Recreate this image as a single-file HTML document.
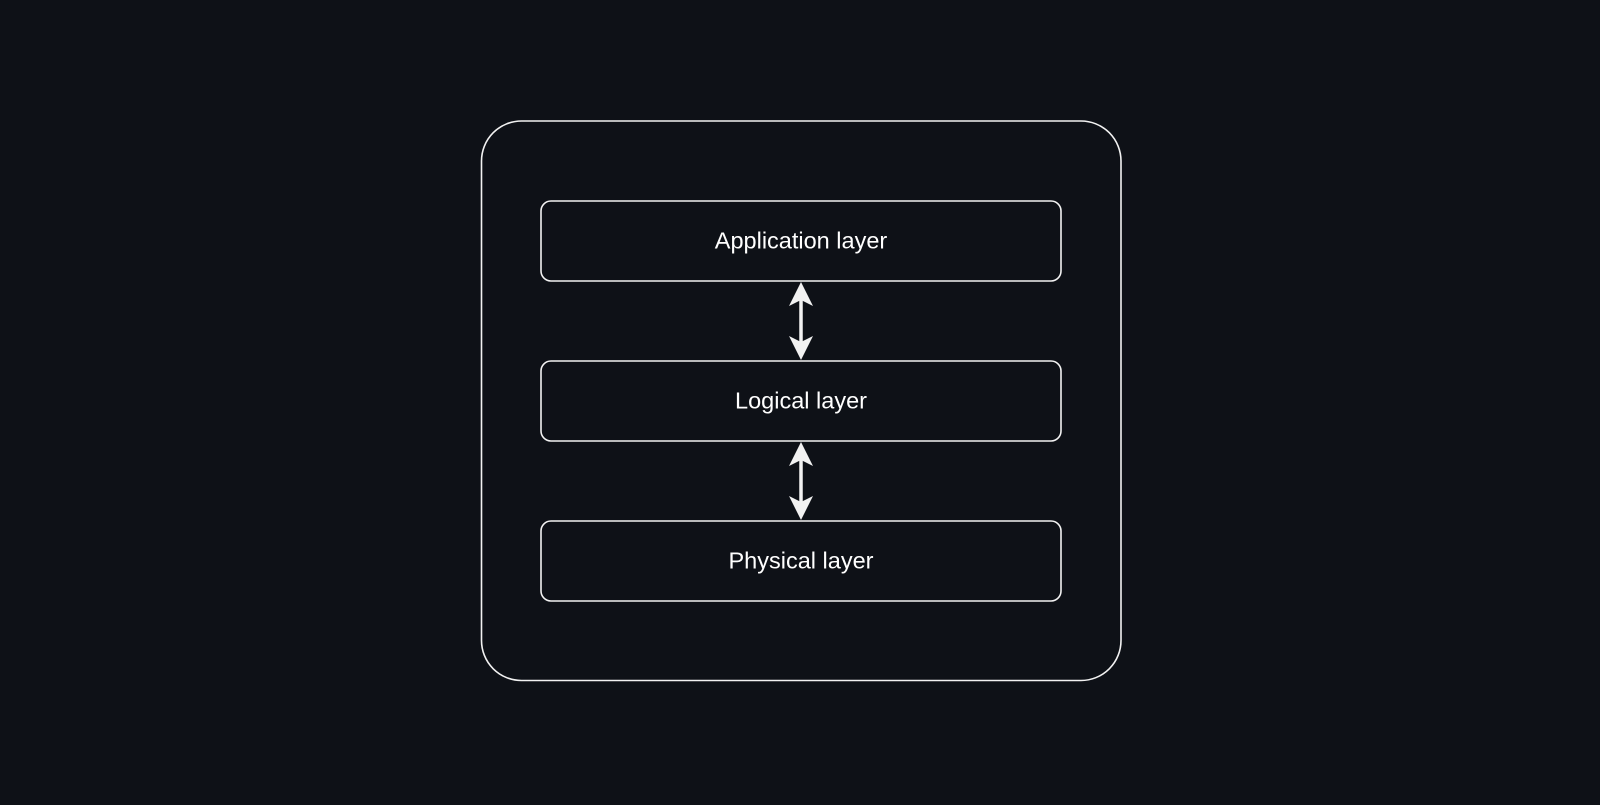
<!DOCTYPE html>
<html><head><meta charset="utf-8"><style>
html,body{margin:0;padding:0;background:#0e1117;}
</style></head><body>
<svg width="1600" height="800" viewBox="0 0 1600 800" xmlns="http://www.w3.org/2000/svg">
<rect width="1600" height="800" fill="#0e1117"/>
<g fill="none" stroke="#f2f2f2" stroke-width="1.6">
<rect x="481.5" y="121" width="639.5" height="559.5" rx="40"/>
<rect x="541" y="201" width="520" height="80" rx="10"/>
<rect x="541" y="361" width="520" height="80" rx="10"/>
<rect x="541" y="521" width="520" height="80" rx="10"/>
</g>
<g stroke="#f2f2f2" stroke-width="3.5">
<line x1="801" y1="295" x2="801" y2="347"/>
<line x1="801" y1="455" x2="801" y2="507"/>
</g>
<g fill="#f2f2f2">
<path d="M801 282 L813 306 L801 300 L789 306 Z"/>
<path d="M801 360 L813 336 L801 342 L789 336 Z"/>
<path d="M801 442 L813 466 L801 460 L789 466 Z"/>
<path d="M801 520 L813 496 L801 502 L789 496 Z"/>
</g>
<g fill="#ffffff" font-family="Liberation Sans, sans-serif" font-size="23.5" text-anchor="middle">
<text x="801" y="248.5">Application layer</text>
<text x="801" y="408.5">Logical layer</text>
<text x="801" y="568.5">Physical layer</text>
</g>
</svg>
</body></html>
